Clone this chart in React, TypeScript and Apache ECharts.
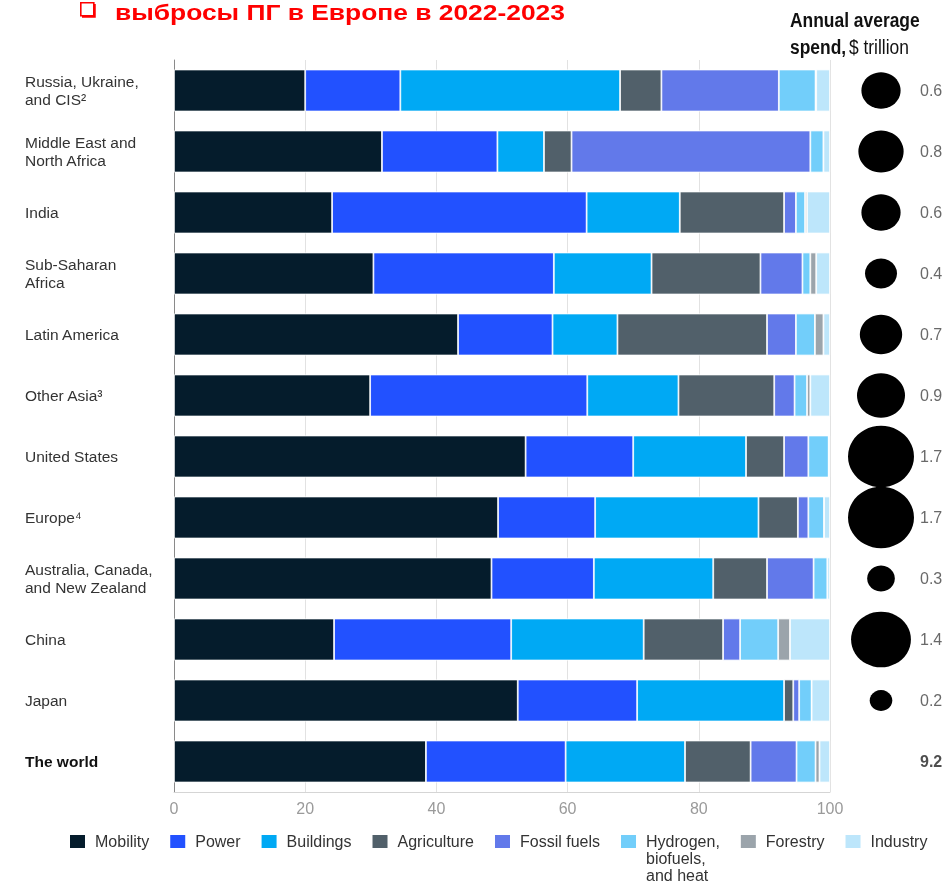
import React, { useEffect, useRef } from "react";
import * as echarts from "echarts";

const categories = [
  "Russia, Ukraine,\nand CIS²",
  "Middle East and\nNorth Africa",
  "India",
  "Sub-Saharan\nAfrica",
  "Latin America",
  "Other Asia³",
  "United States",
  "Europe⁴",
  "Australia, Canada,\nand New Zealand",
  "China",
  "Japan",
  "The world",
];

const seriesNames = [
  "Mobility",
  "Power",
  "Buildings",
  "Agriculture",
  "Fossil fuels",
  "Hydrogen,\nbiofuels,\nand heat",
  "Forestry",
  "Industry",
];

const seriesColors = [
  "#051c2c",
  "#2251ff",
  "#00a9f4",
  "#51606a",
  "#6279ea",
  "#72cefa",
  "#9ba4ab",
  "#bde6fb",
];

const mobility = [20.0, 31.7, 24.1, 30.4, 43.3, 29.9, 53.6, 49.4, 48.4, 24.4, 52.4, 38.4];
const power = [14.5, 17.6, 38.8, 27.5, 14.4, 33.1, 16.4, 14.8, 15.6, 27.0, 18.2, 21.3];
const buildings = [33.5, 7.1, 14.2, 14.9, 9.9, 13.9, 17.2, 24.9, 18.2, 20.2, 22.4, 18.2];
const agriculture = [6.3, 4.2, 15.9, 16.6, 22.8, 14.6, 5.8, 6.0, 8.2, 12.1, 1.4, 10.0];
const fossilFuels = [17.9, 36.4, 1.8, 6.4, 4.4, 3.1, 3.7, 1.6, 7.1, 2.6, 0.9, 7.0];
const hydrogen = [5.6, 2.0, 1.4, 1.2, 2.9, 1.9, 3.1, 2.4, 2.1, 5.8, 1.9, 2.9];
const forestry = [0.1, 0.0, 0.3, 0.9, 1.3, 0.5, 0.0, 0.0, 0.0, 1.8, 0.0, 0.6];
const industry = [2.1, 1.0, 3.5, 2.1, 1.0, 3.0, 0.2, 0.9, 0.4, 6.1, 2.8, 1.6];

const seriesValues = [mobility, power, buildings, agriculture, fossilFuels, hydrogen, forestry, industry];

const spend = [0.6, 0.8, 0.6, 0.4, 0.7, 0.9, 1.7, 1.7, 0.3, 1.4, 0.2, 9.2];
const xTicks = [0, 20, 40, 60, 80, 100];

export default function App() {
  const ref = useRef<HTMLDivElement>(null);

  useEffect(() => {
    if (!ref.current) return;
    const chart = echarts.init(ref.current, null, { renderer: "svg" });
    const font = "Liberation Sans, Arial, sans-serif";
    const lastIdx = categories.length - 1;

    const barSeries = seriesNames.map((name, si) => ({
      name,
      type: "bar",
      stack: "total",
      xAxisIndex: 0,
      yAxisIndex: 0,
      barWidth: 42,
      itemStyle: { color: seriesColors[si], borderColor: "#ffffff", borderWidth: 0.8 },
      data: seriesValues[si],
    }));

    const bubbleData = spend.map((v, i) => {
      if (i === lastIdx) return null;
      const d = 50.6 * Math.sqrt(v);
      return { value: [0.5, i], symbolSize: [d, d * 0.93] };
    });

    const labelData = spend.map((v, i) => ({
      value: [1, i],
      label: {
        fontWeight: i === lastIdx ? "bold" : "normal",
        color: i === lastIdx ? "#222" : "#444",
      },
    }));

    chart.setOption({
      animation: false,
      textStyle: { fontFamily: font },
      graphic: [
        {
          type: "rect",
          left: 80,
          top: 2,
          shape: { width: 13, height: 13 },
          style: { fill: "#fff", stroke: "#ff0000", lineWidth: 1.6 },
        },
        {
          type: "polyline",
          shape: { points: [[82, 16.5], [94.5, 16.5], [94.5, 4]] },
          style: { stroke: "#ff0000", lineWidth: 2.5, fill: null },
        },
        {
          type: "text",
          x: 115,
          y: 23,
          scaleX: 1.2,
          style: {
            text: "выбросы ПГ в Европе в 2022-2023",
            font: "bold 22px Liberation Sans, Arial, sans-serif",
            fill: "#ff0000",
            verticalAlign: "bottom",
          },
        },
        {
          type: "text",
          x: 790,
          y: 6,
          scaleX: 0.83,
          style: {
            text: "{b|Annual average}\n{b|spend,} {r|$ trillion}",
            rich: {
              b: { fontFamily: font, fontWeight: "bold", fontSize: 21, lineHeight: 27, fill: "#111" },
              r: { fontFamily: font, fontSize: 21, lineHeight: 27, fill: "#111" },
            },
          },
        },
      ],
      legend: {
        left: 68,
        top: 799,
        padding: 0,
        icon: "rect",
        itemWidth: 17,
        itemHeight: 15,
        itemGap: 19,
        textStyle: { fontSize: 16, color: "#333", fontFamily: font, lineHeight: 17, padding: [0, 0, 0, 4] },
        formatter: (name: string) => (name.startsWith("Hydrogen") ? "\n\n" + name : name),
        data: seriesNames,
      },
      grid: [
        { left: 174, right: 117, top: 60, bottom: 92, containLabel: false, outerBoundsMode: "none" },
        { left: 842, width: 78, top: 60, bottom: 92, containLabel: false, outerBoundsMode: "none" },
      ],
      xAxis: [
        {
          type: "value",
          gridIndex: 0,
          min: 0,
          max: 100,
          interval: 20,
          axisLine: { show: true, lineStyle: { color: "#d5d5d5" } },
          axisTick: { show: false },
          axisLabel: {
            color: "#9a9a9a",
            fontSize: 16,
            margin: 8,
            formatter: (v: number) => (xTicks.includes(v) ? String(v) : ""),
          },
          splitLine: { show: true, lineStyle: { color: "#e2e2e2" } },
        },
        { type: "value", gridIndex: 1, min: 0, max: 1, show: false },
      ],
      yAxis: [
        {
          type: "category",
          gridIndex: 0,
          inverse: true,
          data: categories,
          axisLine: { show: true, lineStyle: { color: "#8a8a8a" } },
          axisTick: { show: false },
          axisLabel: {
            align: "left",
            margin: 149,
            fontSize: 15.5,
            lineHeight: 18,
            color: "#333",
            fontFamily: font,
            formatter: (v: string, i: number) => (i === lastIdx ? "{b|" + v + "}" : v),
            rich: {
              b: { fontWeight: "bold", color: "#111", fontSize: 15.5, fontFamily: font },
            },
          },
        },
        {
          type: "category",
          gridIndex: 1,
          inverse: true,
          data: categories,
          show: false,
        },
      ],
      series: [
        ...barSeries,
        {
          type: "scatter",
          name: "spend",
          xAxisIndex: 1,
          yAxisIndex: 1,
          symbol: "circle",
          itemStyle: { color: "#000", opacity: 1 },
          data: bubbleData,
          silent: true,
        },
        {
          type: "scatter",
          name: "spendLabel",
          xAxisIndex: 1,
          yAxisIndex: 1,
          symbolSize: 0,
          silent: true,
          label: {
            show: true,
            position: "right",
            distance: 0,
            fontSize: 16,
            fontFamily: font,
            formatter: (p: any) => spend[p.dataIndex].toFixed(1),
          },
          data: labelData,
        },
      ],
    });

    return () => chart.dispose();
  }, []);

  return (
    <div
      ref={ref}
      style={{ position: "fixed", left: 0, top: 0, width: 947, height: 884 }}
    />
  );
}
